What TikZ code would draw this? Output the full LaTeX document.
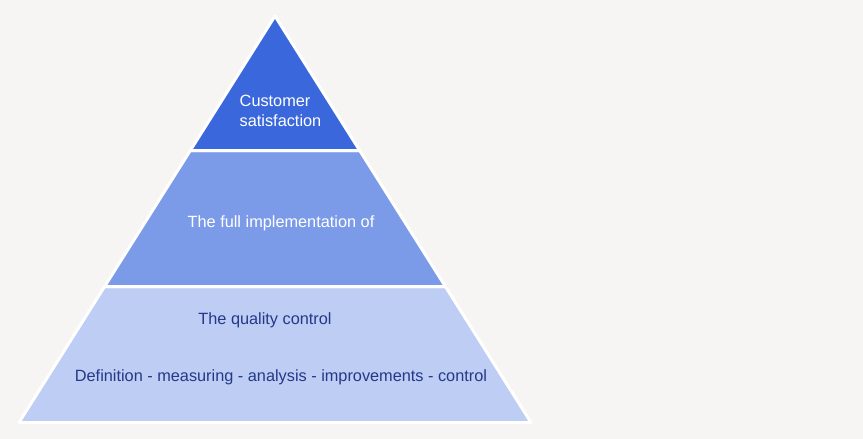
\documentclass[tikz,border=0pt]{standalone}
\usepackage{fontspec}
\setmainfont{Liberation Sans}
\definecolor{bgcol}{RGB}{246,245,243}
\definecolor{topblue}{RGB}{58,104,220}
\definecolor{midblue}{RGB}{123,155,232}
\definecolor{lowblue}{RGB}{189,205,244}
\definecolor{navy}{RGB}{36,56,136}

\begin{document}
\begin{tikzpicture}[x=1pt, y=-1pt, layer/.style={draw=white, line width=3pt, line join=round},
    txt/.style={font=\fontsize{16.3}{20}\selectfont, inner sep=0pt}]
      \fill [bgcol] (0,0) rectangle (863,439);
      \coordinate (apex) at (275,16);
      \coordinate (t1l) at (190.3,150.5);
      \coordinate (t1r) at (359.7,150.5);
      \coordinate (t2l) at (104.6,286.5);
      \coordinate (t2r) at (445.4,286.5);
      \coordinate (bl) at (19,422.5);
      \coordinate (br) at (531,422.5);
      \filldraw [layer, fill=lowblue] (t2l) -- (t2r) -- (br) -- (bl) -- cycle;
      \filldraw [layer, fill=midblue] (t1l) -- (t1r) -- (t2r) -- (t2l) -- cycle;
      \filldraw [layer, fill=topblue] (apex) -- (t1r) -- (t1l) -- cycle;
      \node [txt, white, align=left] (top) at (280.5,111) {Customer\\satisfaction};
      \node [txt, white] (mid) at (281,223) {The full implementation of};
      \node [txt, navy] (qc) at (265,320) {The quality control};
      \node [txt, navy] (steps) at (281,377) {Definition - measuring - analysis - improvements - control};
\end{tikzpicture}
\end{document}
